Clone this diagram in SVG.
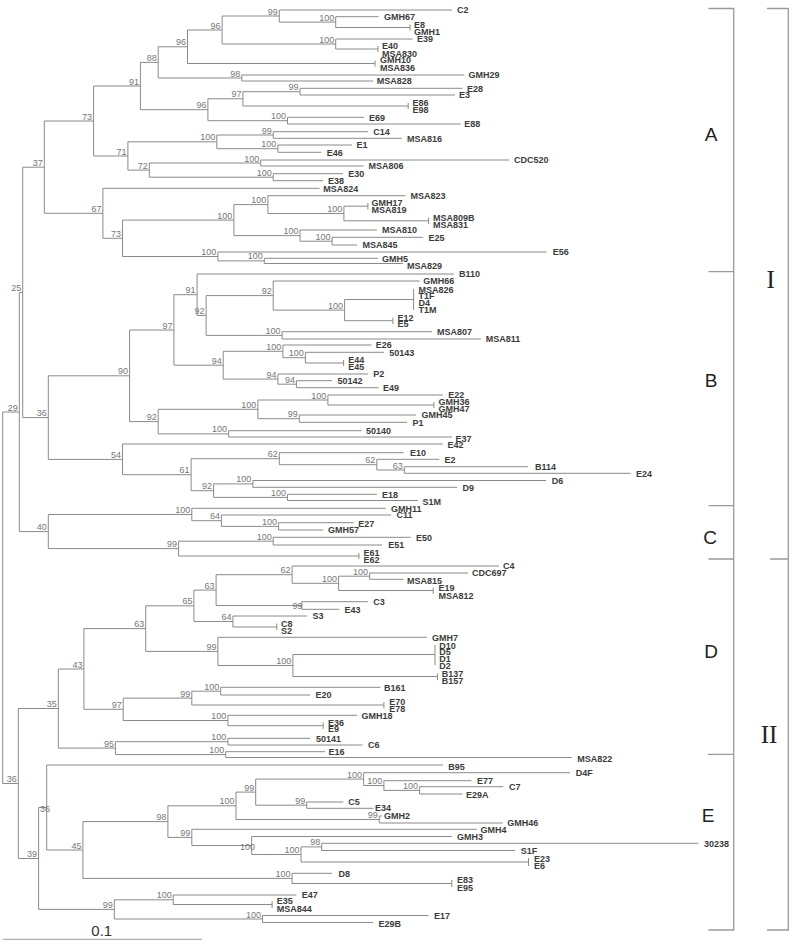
<svg xmlns="http://www.w3.org/2000/svg" width="800" height="946" viewBox="0 0 800 946">
<style>
.br{fill:none;stroke:#8a8a8a;stroke-width:1}
.bk{fill:none;stroke:#9a9a9a;stroke-width:1.3}
.lf{font-family:"Liberation Sans",Arial,sans-serif;font-size:9px;font-weight:bold;fill:#3c3c3c}
.bs{font-family:"Liberation Sans",Arial,sans-serif;font-size:9px;fill:#777;text-anchor:end}
.bss{font-family:"Liberation Sans",Arial,sans-serif;font-size:9px;fill:#777}
.cl{font-family:"Liberation Sans",Arial,sans-serif;font-size:19px;fill:#222;text-anchor:middle}
.rn{font-family:"Liberation Serif","Times New Roman",serif;font-size:25px;fill:#222;text-anchor:middle}
</style>
<rect width="800" height="946" fill="#fff"/>
<g id="connectors" class="br">
<path d="M378.6,16.7H335.7V27.5H410"/>
<path d="M452,10H279.3V22.1H335.7"/>
<path d="M412.5,39H335.7V49H378"/>
<path d="M279.3,16H222.1V44H335.7"/>
<path d="M222.1,30H187.5V63.5H375"/>
<path d="M464.3,75H241.8V81H373.2"/>
<path d="M187.5,46.8H158.2V78H241.8"/>
<path d="M462.5,88.3H300V95H455"/>
<path d="M300,91.7H242.9V106H408.2"/>
<path d="M364.3,117.3H287.5V124H460.7"/>
<path d="M242.9,98.8H207.9V120.7H287.5"/>
<path d="M158.2,62.4H140.4V109.7H207.9"/>
<path d="M367.9,131.7H273.2V138.3H401.8"/>
<path d="M351.8,145H277.9V152.3H321.4"/>
<path d="M273.2,135H216.8V148.7H277.9"/>
<path d="M509,160H260.7V166H363.6"/>
<path d="M342.9,173.7H273.2V180.7H323"/>
<path d="M260.7,163H149.3V177.2H273.2"/>
<path d="M216.8,141.8H127.9V170.1H149.3"/>
<path d="M140.4,86H93.6V156H127.9"/>
<path d="M367.9,206.2H343.9V220.8H428.6"/>
<path d="M405.4,195.7H267.9V213.5H343.9"/>
<path d="M423.2,237.3H332.1V245H357.1"/>
<path d="M376.8,230H300V241.2H332.1"/>
<path d="M267.9,204.6H233.9V235.6H300"/>
<path d="M377.9,258.3H264.3V263.5H403"/>
<path d="M546.7,252H217.9V260.9H264.3"/>
<path d="M233.9,220.1H122.5V256.5H217.9"/>
<path d="M319.6,188.3H102.9V238.3H122.5"/>
<path d="M93.6,121H44.3V213.3H102.9"/>
<path d="M413.6,299.5H344.6V320.7H392.9"/>
<path d="M419.6,281H273.2V310.1H344.6"/>
<path d="M432.1,331.7H282.1V339H481"/>
<path d="M273.2,295.6H206.1V335.4H282.1"/>
<path d="M453.6,274H197.1V315.5H206.1"/>
<path d="M383.9,352.3H305.4V363H343.6"/>
<path d="M371.4,345H282.9V357.7H305.4"/>
<path d="M332.1,380.7H296.4V387.7H378.6"/>
<path d="M367.9,374H277.9V384.2H296.4"/>
<path d="M282.9,351.3H223.2V379.1H277.9"/>
<path d="M197.1,294.7H173.9V365.2H223.2"/>
<path d="M442.9,395H327.9V405H433.9"/>
<path d="M416.1,415H299.3V422.3H407.1"/>
<path d="M327.9,400H257.9V418.7H299.3"/>
<path d="M361.4,430.7H228.6V437H451.8"/>
<path d="M257.9,409.3H158.2V433.9H228.6"/>
<path d="M173.9,330H129.6V421.6H158.2"/>
<path d="M528,466.7H404.3V473.3H630.7"/>
<path d="M439.3,459.3H376.8V470H404.3"/>
<path d="M403.6,452.7H279.3V464.7H376.8"/>
<path d="M546,480.5H252.9V487.3H457.1"/>
<path d="M376.8,494.3H287.5V500.5H417.9"/>
<path d="M252.9,483.9H213.6V497.4H287.5"/>
<path d="M279.3,458.7H191.1V490.7H213.6"/>
<path d="M442.9,444H122.5V474.7H191.1"/>
<path d="M129.6,375.8H48.3V459.4H122.5"/>
<path d="M44.3,167.2H22.7V417.6H48.3"/>
<path d="M353.6,522.7H278.6V530H323.2"/>
<path d="M391.1,515H221.4V526.4H278.6"/>
<path d="M385.7,508.3H191.8V520.7H221.4"/>
<path d="M410.7,537.3H273.2V545H382.1"/>
<path d="M273.2,541.2H178.6V556H358.9"/>
<path d="M191.8,514.5H48.3V548.6H178.6"/>
<path d="M22.7,292.4H19.3V531.6H48.3"/>
<path d="M467.9,573H369.6V579.3H403.6"/>
<path d="M369.6,576.2H338.6V590.5H433.2"/>
<path d="M499,566H292.1V583.3H338.6"/>
<path d="M367.9,601.7H301.8V609.3H339.3"/>
<path d="M292.1,574.7H216.1V605.5H301.8"/>
<path d="M307.1,616H232.9V627H276.8"/>
<path d="M216.1,590.1H193.9V621.5H232.9"/>
<path d="M435,654.5H292.9V676.5H437.5"/>
<path d="M426.8,637.3H217.9V665.5H292.9"/>
<path d="M193.9,605.8H145.7V651.4H217.9"/>
<path d="M380.4,687.3H220.7V695H310"/>
<path d="M220.7,691.2H191.8V705H383.9"/>
<path d="M357.1,715.3H227.9V725.7H323.2"/>
<path d="M191.8,698.1H123.2V720.5H227.9"/>
<path d="M145.7,628.6H83.9V709.3H123.2"/>
<path d="M310,738.3H227.9V745H362.5"/>
<path d="M325,751.7H225.7V757.5H571.7"/>
<path d="M227.9,741.7H115.4V754.6H225.7"/>
<path d="M83.9,669H58.3V748.1H115.4"/>
<path d="M503.3,786.7H419.6V794H462.5"/>
<path d="M471.4,780.7H383.9V790.4H419.6"/>
<path d="M570,772.7H363.6V785.5H383.9"/>
<path d="M343.3,802H306.7V808.3H373.3"/>
<path d="M363.6,779.1H255.7V805.2H306.7"/>
<path d="M382,816H379.3V823H502.7"/>
<path d="M255.7,792.1H236V819.5H379.3"/>
<path d="M698.3,843.3H321.7V850.5H515"/>
<path d="M321.7,846.9H301V862H528.5"/>
<path d="M451.8,836.5H251.7V854.5H301"/>
<path d="M476.8,829.3H191.8V845.5H251.7"/>
<path d="M236,805.8H167.9V837.4H191.8"/>
<path d="M332.1,873.3H292.1V883.5H451.8"/>
<path d="M167.9,821.6H82.9V878.4H292.1"/>
<path d="M442.9,765H46.7V850H82.9"/>
<path d="M296.4,895H173.2V904.5H272.1"/>
<path d="M428.6,915.5H262.5V922.5H373.2"/>
<path d="M173.2,899.8H114.3V919H262.5"/>
<path d="M46.7,807.5H38.6V909.4H114.3"/>
<path d="M58.3,708.5H18.3V858.5H38.6"/>
<path d="M19.3,412H2.7V783.5H18.3"/>
<path d="M410,24.5V30.5M378,46V52M375,60.5V66.5M408.2,103V109M367.9,203V209.5M428.6,217.5V224M413.6,289V310M392.9,317.5V324M343.6,360V366M433.9,402V408M358.9,553V559M433.2,587.5V594M276.8,623.5V630M435,645V665M437.5,673.5V680M383.9,702V708.5M323.2,722.5V729M528.5,858V866M451.8,880V887M272.1,901V908"/>
</g>
<g id="leaves" class="lf">
<g id="leaf-C2"><text x="457" y="13.2">C2</text></g>
<g id="leaf-GMH67"><text x="384" y="19.9">GMH67</text></g>
<g id="leaf-E8-GMH1"><text x="414" y="28.2">E8</text><text x="414" y="34.9">GMH1</text></g>
<g id="leaf-E39"><text x="417" y="42.2">E39</text></g>
<g id="leaf-E40-MSA830"><text x="382" y="48.9">E40</text><text x="382" y="56.5">MSA830</text></g>
<g id="leaf-GMH10-MSA836"><text x="380" y="63.2">GMH10</text><text x="380" y="70.5">MSA836</text></g>
<g id="leaf-GMH29"><text x="468.6" y="78.2">GMH29</text></g>
<g id="leaf-MSA828"><text x="376.8" y="84.2">MSA828</text></g>
<g id="leaf-E28"><text x="467" y="91.5">E28</text></g>
<g id="leaf-E3"><text x="459" y="98.2">E3</text></g>
<g id="leaf-E86-E98"><text x="412.5" y="105.9">E86</text><text x="412.5" y="112.5">E98</text></g>
<g id="leaf-E69"><text x="368.9" y="120.5">E69</text></g>
<g id="leaf-E88"><text x="464.3" y="127.2">E88</text></g>
<g id="leaf-C14"><text x="373.2" y="134.9">C14</text></g>
<g id="leaf-MSA816"><text x="407.1" y="141.5">MSA816</text></g>
<g id="leaf-E1"><text x="356.4" y="148.2">E1</text></g>
<g id="leaf-E46"><text x="326.8" y="155.5">E46</text></g>
<g id="leaf-CDC520"><text x="514" y="163.2">CDC520</text></g>
<g id="leaf-MSA806"><text x="368.6" y="169.2">MSA806</text></g>
<g id="leaf-E30"><text x="348.2" y="176.9">E30</text></g>
<g id="leaf-E38"><text x="328" y="183.9">E38</text></g>
<g id="leaf-MSA824"><text x="323.2" y="191.5">MSA824</text></g>
<g id="leaf-MSA823"><text x="410.5" y="198.9">MSA823</text></g>
<g id="leaf-GMH17-MSA819"><text x="371.4" y="205.5">GMH17</text><text x="371.4" y="213.2">MSA819</text></g>
<g id="leaf-MSA809B-MSA831"><text x="432.9" y="220.5">MSA809B</text><text x="432.9" y="227.5">MSA831</text></g>
<g id="leaf-MSA810"><text x="382.1" y="233.2">MSA810</text></g>
<g id="leaf-E25"><text x="428.6" y="240.5">E25</text></g>
<g id="leaf-MSA845"><text x="362.5" y="248.2">MSA845</text></g>
<g id="leaf-E56"><text x="552.7" y="255.2">E56</text></g>
<g id="leaf-GMH5"><text x="382.1" y="261.5">GMH5</text></g>
<g id="leaf-MSA829"><text x="407.1" y="269.2">MSA829</text></g>
<g id="leaf-B110"><text x="458.9" y="277.2">B110</text></g>
<g id="leaf-GMH66"><text x="423.2" y="284.2">GMH66</text></g>
<g id="leaf-MSA826-T1M"><text x="418.6" y="292.5">MSA826</text><text x="418.6" y="299.2">T1F</text><text x="418.6" y="305.9">D4</text><text x="418.6" y="313.2">T1M</text></g>
<g id="leaf-E12-E5"><text x="397.5" y="320.5">E12</text><text x="397.5" y="327.2">E5</text></g>
<g id="leaf-MSA807"><text x="437" y="334.9">MSA807</text></g>
<g id="leaf-MSA811"><text x="485.7" y="342.2">MSA811</text></g>
<g id="leaf-E26"><text x="375.7" y="348.2">E26</text></g>
<g id="leaf-50143"><text x="389.3" y="355.5">50143</text></g>
<g id="leaf-E44-E45"><text x="348.2" y="362.5">E44</text><text x="348.2" y="369.9">E45</text></g>
<g id="leaf-P2"><text x="373.2" y="377.2">P2</text></g>
<g id="leaf-50142"><text x="337.5" y="383.9">50142</text></g>
<g id="leaf-E49"><text x="382.9" y="390.9">E49</text></g>
<g id="leaf-E22"><text x="448.2" y="398.2">E22</text></g>
<g id="leaf-GMH36-GMH47"><text x="438.6" y="404.9">GMH36</text><text x="438.6" y="411.5">GMH47</text></g>
<g id="leaf-GMH45"><text x="421.4" y="418.2">GMH45</text></g>
<g id="leaf-P1"><text x="412.5" y="425.5">P1</text></g>
<g id="leaf-50140"><text x="366.1" y="433.9">50140</text></g>
<g id="leaf-E37"><text x="455.4" y="441.5">E37</text></g>
<g id="leaf-E42"><text x="447.5" y="448.2">E42</text></g>
<g id="leaf-E10"><text x="410" y="455.9">E10</text></g>
<g id="leaf-E2"><text x="444.6" y="462.5">E2</text></g>
<g id="leaf-B114"><text x="535" y="469.9">B114</text></g>
<g id="leaf-E24"><text x="636" y="476.5">E24</text></g>
<g id="leaf-D6"><text x="551.7" y="483.7">D6</text></g>
<g id="leaf-D9"><text x="462.5" y="490.5">D9</text></g>
<g id="leaf-E18"><text x="382.1" y="497.5">E18</text></g>
<g id="leaf-S1M"><text x="422.5" y="504.9">S1M</text></g>
<g id="leaf-GMH11"><text x="391.1" y="511.5">GMH11</text></g>
<g id="leaf-C11"><text x="396.4" y="518.2">C11</text></g>
<g id="leaf-E27"><text x="358.2" y="526.5">E27</text></g>
<g id="leaf-GMH57"><text x="327.9" y="533.2">GMH57</text></g>
<g id="leaf-E50"><text x="416.1" y="540.5">E50</text></g>
<g id="leaf-E51"><text x="388.2" y="548.2">E51</text></g>
<g id="leaf-E61-E62"><text x="363.6" y="555.9">E61</text><text x="363.6" y="562.5">E62</text></g>
<g id="leaf-C4"><text x="503" y="568.7">C4</text></g>
<g id="leaf-CDC697"><text x="472.1" y="575.9">CDC697</text></g>
<g id="leaf-MSA815"><text x="407.1" y="584.2">MSA815</text></g>
<g id="leaf-E19-MSA812"><text x="438.6" y="590.9">E19</text><text x="438.6" y="598.5">MSA812</text></g>
<g id="leaf-C3"><text x="373.2" y="604.9">C3</text></g>
<g id="leaf-E43"><text x="344.6" y="612.5">E43</text></g>
<g id="leaf-S3"><text x="312.5" y="619.2">S3</text></g>
<g id="leaf-C8-S2"><text x="281.1" y="626.5">C8</text><text x="281.1" y="634.2">S2</text></g>
<g id="leaf-GMH7"><text x="432.1" y="640.5">GMH7</text></g>
<g id="leaf-D10-D2"><text x="439.3" y="648.5">D10</text><text x="439.3" y="654.9">D5</text><text x="439.3" y="662.2">D1</text><text x="439.3" y="668.9">D2</text></g>
<g id="leaf-B137-B157"><text x="441.8" y="676.5">B137</text><text x="441.8" y="683.9">B157</text></g>
<g id="leaf-B161"><text x="383.9" y="690.5">B161</text></g>
<g id="leaf-E20"><text x="315.5" y="698.2">E20</text></g>
<g id="leaf-E70-E78"><text x="389.3" y="704.9">E70</text><text x="389.3" y="712.2">E78</text></g>
<g id="leaf-GMH18"><text x="361.4" y="718.5">GMH18</text></g>
<g id="leaf-E36-E9"><text x="327.9" y="725.5">E36</text><text x="327.9" y="732.2">E9</text></g>
<g id="leaf-50141"><text x="316.1" y="741.5">50141</text></g>
<g id="leaf-C6"><text x="367.9" y="748.2">C6</text></g>
<g id="leaf-E16"><text x="328.6" y="754.9">E16</text></g>
<g id="leaf-MSA822"><text x="577.3" y="761.5">MSA822</text></g>
<g id="leaf-B95"><text x="448.2" y="769.9">B95</text></g>
<g id="leaf-D4F"><text x="575.7" y="775.9">D4F</text></g>
<g id="leaf-E77"><text x="477" y="783.9">E77</text></g>
<g id="leaf-C7"><text x="509" y="789.9">C7</text></g>
<g id="leaf-E29A"><text x="466" y="798.2">E29A</text></g>
<g id="leaf-C5"><text x="348.3" y="805.2">C5</text></g>
<g id="leaf-E34"><text x="375" y="811.2">E34</text></g>
<g id="leaf-GMH2"><text x="384" y="819.2">GMH2</text></g>
<g id="leaf-GMH46"><text x="507.3" y="825.9">GMH46</text></g>
<g id="leaf-GMH4"><text x="480.4" y="832.5">GMH4</text></g>
<g id="leaf-GMH3"><text x="457.1" y="839.9">GMH3</text></g>
<g id="leaf-30238"><text x="704" y="847.2">30238</text></g>
<g id="leaf-S1F"><text x="520.7" y="853.9">S1F</text></g>
<g id="leaf-E23-E6"><text x="534" y="861.5">E23</text><text x="534" y="869.2">E6</text></g>
<g id="leaf-D8"><text x="338.6" y="876.5">D8</text></g>
<g id="leaf-E83-E95"><text x="457.1" y="883.2">E83</text><text x="457.1" y="890.5">E95</text></g>
<g id="leaf-E47"><text x="301.8" y="898.2">E47</text></g>
<g id="leaf-E35-MSA844"><text x="276.8" y="903.9">E35</text><text x="276.8" y="912.2">MSA844</text></g>
<g id="leaf-E17"><text x="434" y="919.2">E17</text></g>
<g id="leaf-E29B"><text x="378.6" y="927.2">E29B</text></g>
</g>
<g id="bootstrap" class="bs">
<g id="n99a"><text x="277.8" y="14.5">99</text></g>
<g id="n100a"><text x="334.2" y="20.6">100</text></g>
<g id="n100b"><text x="334.2" y="42.5">100</text></g>
<g id="n96i"><text x="220.6" y="28.5">96</text></g>
<g id="n96a"><text x="186" y="45.3">96</text></g>
<g id="n98a"><text x="240.3" y="76.5">98</text></g>
<g id="n88"><text x="156.7" y="60.9">88</text></g>
<g id="n99c"><text x="298.5" y="90.2">99</text></g>
<g id="n97a"><text x="241.4" y="97.3">97</text></g>
<g id="n100c"><text x="286" y="119.2">100</text></g>
<g id="n96b"><text x="206.4" y="108.2">96</text></g>
<g id="n91a"><text x="138.9" y="84.6">91</text></g>
<g id="n73a"><text x="92.1" y="119.5">73</text></g>
<g id="n99d"><text x="271.7" y="133.5">99</text></g>
<g id="n100e"><text x="276.4" y="147.2">100</text></g>
<g id="n100d"><text x="215.3" y="140.3">100</text></g>
<g id="n100f"><text x="259.2" y="161.5">100</text></g>
<g id="n100g"><text x="271.7" y="175.7">100</text></g>
<g id="n72"><text x="147.8" y="168.6">72</text></g>
<g id="n71"><text x="126.4" y="154.5">71</text></g>
<g id="n37"><text x="42.8" y="165.7">37</text></g>
<g id="n100h"><text x="342.4" y="212">100</text></g>
<g id="n100i"><text x="266.4" y="203.1">100</text></g>
<g id="n100k"><text x="330.6" y="239.7">100</text></g>
<g id="n100j"><text x="298.5" y="234.1">100</text></g>
<g id="n100l"><text x="232.4" y="218.6">100</text></g>
<g id="n100n"><text x="262.8" y="259.4">100</text></g>
<g id="n100m"><text x="216.4" y="255">100</text></g>
<g id="n73b"><text x="121" y="236.8">73</text></g>
<g id="n67"><text x="101.4" y="211.8">67</text></g>
<g id="n25"><text x="21.2" y="290.9">25</text></g>
<g id="n100p"><text x="343.1" y="308.6">100</text></g>
<g id="n92a"><text x="271.7" y="294">92</text></g>
<g id="n100q"><text x="280.6" y="333.9">100</text></g>
<g id="n92b"><text x="204.6" y="314">92</text></g>
<g id="n91b"><text x="195.6" y="293.2">91</text></g>
<g id="n100s"><text x="303.9" y="356.2">100</text></g>
<g id="n100r"><text x="281.4" y="349.8">100</text></g>
<g id="n94b"><text x="294.9" y="382.7">94</text></g>
<g id="n94a"><text x="276.4" y="377.6">94</text></g>
<g id="n94"><text x="221.7" y="363.7">94</text></g>
<g id="n97b"><text x="172.4" y="328.5">97</text></g>
<g id="n100t"><text x="326.4" y="398.5">100</text></g>
<g id="n99t"><text x="297.8" y="417.2">99</text></g>
<g id="n100u"><text x="256.4" y="407.8">100</text></g>
<g id="n100v"><text x="227.1" y="432.4">100</text></g>
<g id="n92c"><text x="156.7" y="420.1">92</text></g>
<g id="n90"><text x="128.1" y="374.3">90</text></g>
<g id="n63a"><text x="402.8" y="468.5">63</text></g>
<g id="n62b"><text x="375.3" y="463.2">62</text></g>
<g id="n62a"><text x="277.8" y="457.2">62</text></g>
<g id="n100w"><text x="251.4" y="482.4">100</text></g>
<g id="n100x"><text x="286" y="495.9">100</text></g>
<g id="n92d"><text x="212.1" y="489.2">92</text></g>
<g id="n61"><text x="189.6" y="473.2">61</text></g>
<g id="n54"><text x="121" y="457.9">54</text></g>
<g id="n36a"><text x="46.8" y="416.1">36</text></g>
<g id="n100y"><text x="277.1" y="524.9">100</text></g>
<g id="n64a"><text x="219.9" y="519.2">64</text></g>
<g id="n100z"><text x="190.3" y="513">100</text></g>
<g id="n100aa"><text x="271.7" y="539.7">100</text></g>
<g id="n99e"><text x="177.1" y="547.1">99</text></g>
<g id="n40"><text x="46.8" y="530.1">40</text></g>
<g id="n29"><text x="17.8" y="410.5">29</text></g>
<g id="n100bb"><text x="368.1" y="574.7">100</text></g>
<g id="n100cc"><text x="337.1" y="581.8">100</text></g>
<g id="n62c"><text x="290.6" y="573.2">62</text></g>
<g id="n99g"><text class="bss" x="302.5" y="608.5">99</text></g>
<g id="n63b"><text x="214.6" y="588.6">63</text></g>
<g id="n64b"><text x="231.4" y="620">64</text></g>
<g id="n65"><text x="192.4" y="604.3">65</text></g>
<g id="n100dd"><text x="291.4" y="664">100</text></g>
<g id="n99h"><text x="216.4" y="649.9">99</text></g>
<g id="n63c"><text x="144.2" y="627.1">63</text></g>
<g id="n100ee"><text x="219.2" y="689.7">100</text></g>
<g id="n99i"><text x="190.3" y="696.6">99</text></g>
<g id="n100ff"><text x="226.4" y="719">100</text></g>
<g id="n97c"><text x="121.7" y="707.8">97</text></g>
<g id="n43"><text x="82.4" y="667.5">43</text></g>
<g id="n100gg"><text x="226.4" y="740.2">100</text></g>
<g id="n100hh"><text x="224.2" y="753.1">100</text></g>
<g id="n95"><text x="113.9" y="746.6">95</text></g>
<g id="n35"><text x="56.8" y="707">35</text></g>
<g id="n100kk"><text x="418.1" y="788.9">100</text></g>
<g id="n100jj"><text x="382.4" y="784">100</text></g>
<g id="n100ii"><text x="362.1" y="777.6">100</text></g>
<g id="n99j"><text x="305.2" y="803.7">99</text></g>
<g id="n99k"><text x="254.2" y="790.6">99</text></g>
<g id="n99l"><text x="377.8" y="818">99</text></g>
<g id="n100mm"><text x="234.5" y="804.3">100</text></g>
<g id="n98b"><text x="320.2" y="845.4">98</text></g>
<g id="n100nn"><text x="299.5" y="853">100</text></g>
<g id="n100oo"><text class="bss" x="255" y="849.5">100</text></g>
<g id="n99m"><text x="190.3" y="835.9">99</text></g>
<g id="n98c"><text x="166.4" y="820.1">98</text></g>
<g id="n100pp"><text x="290.6" y="876.9">100</text></g>
<g id="n45"><text x="81.4" y="848.5">45</text></g>
<g id="n36c"><text class="bss" x="50" y="812">36</text></g>
<g id="n100qq"><text x="171.7" y="898.3">100</text></g>
<g id="n100rr"><text x="261" y="917.5">100</text></g>
<g id="n99f"><text x="112.8" y="907.9">99</text></g>
<g id="n39"><text x="37.1" y="857">39</text></g>
<g id="n36r"><text x="16.8" y="782">36</text></g>
</g>
<g id="clades">
<path class="bk" d="M708.5,8.5H733.7V930H708.5M708.5,271.7H733.7M708.5,505.7H733.7M708.5,559H733.7M707.7,754.3H733.7"/>
<path class="bk" d="M767,8.5H788.3V930H767M770,559H788.3"/>
<text class="cl" x="711" y="141">A</text>
<text class="cl" x="711" y="387">B</text>
<text class="cl" x="710" y="544">C</text>
<text class="cl" x="711" y="658">D</text>
<text class="cl" x="708" y="821.7">E</text>
<text class="rn" x="770.7" y="288.3">I</text>
<text class="rn" x="769" y="743.3">II</text>
</g>
<g id="scale">
<path d="M3,939.3H201.8" stroke="#9a9a9a" stroke-width="1"/>
<text x="101.8" y="936" font-family="Liberation Sans, Arial, sans-serif" font-size="15" fill="#333" text-anchor="middle">0.1</text>
</g>
</svg>
